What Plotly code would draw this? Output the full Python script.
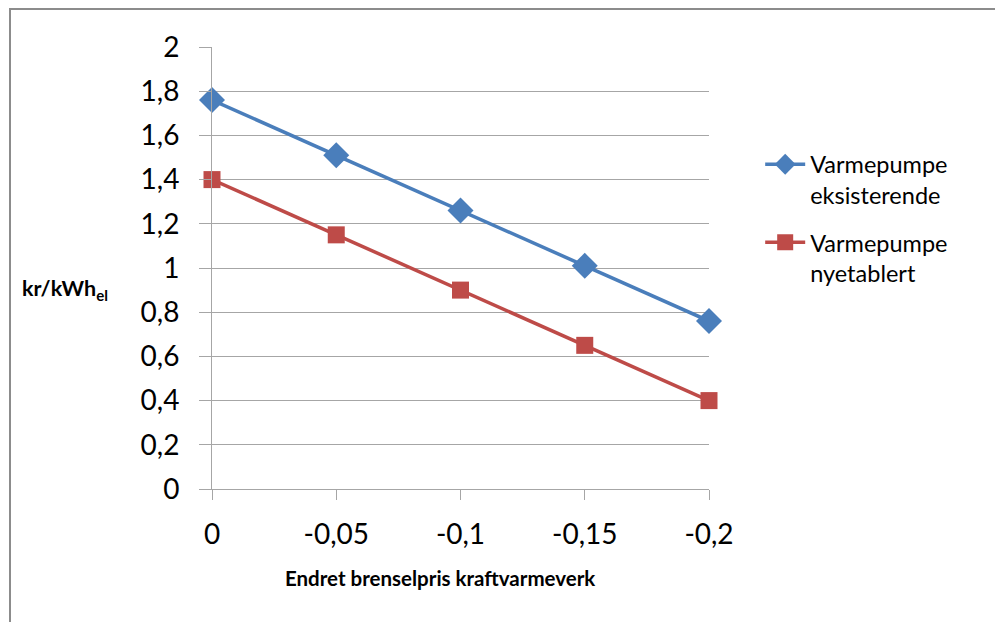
import plotly.graph_objects as go

categories = ["0", "-0,05", "-0,1", "-0,15", "-0,2"]
series_names = ["Varmepumpe<br>eksisterende", "Varmepumpe<br>nyetablert"]
eksisterende = [1.76, 1.51, 1.26, 1.01, 0.76]
nyetablert = [1.40, 1.15, 0.90, 0.65, 0.40]
y_ticks = [0, 0.2, 0.4, 0.6, 0.8, 1.0, 1.2, 1.4, 1.6, 1.8, 2.0]
y_ticktext = ["0", "0,2", "0,4", "0,6", "0,8", "1", "1,2", "1,4", "1,6", "1,8", "2"]

xpos = list(range(len(categories)))
FONT = "Lato, Calibri, 'Open Sans', sans-serif"
GRID = "#A6A6A6"

fig = go.Figure()
fig.add_trace(go.Scatter(
    x=xpos, y=eksisterende, name=series_names[0], mode="lines+markers",
    line=dict(color="#4A7EBB", width=3.5),
    marker=dict(symbol="diamond", size=20, color="#4A7EBB"),
    cliponaxis=False, legendgroup="g1",
))
fig.add_trace(go.Scatter(
    x=xpos, y=nyetablert, name=series_names[1], mode="lines+markers",
    line=dict(color="#BE4B48", width=3.5),
    marker=dict(symbol="square", size=17, color="#BE4B48"),
    cliponaxis=False, legendgroup="g2",
))

fig.update_layout(
    width=995, height=622,
    margin=dict(l=212, r=286, t=47, b=133),
    paper_bgcolor="white", plot_bgcolor="white",
    font=dict(family=FONT, color="#000000"),
    showlegend=True,
    legend=dict(
        x=1.103, y=0.784, xanchor="left", yanchor="top",
        font=dict(size=23.5, family=FONT, color="#000"),
        traceorder="grouped", tracegroupgap=14, itemwidth=40,
        bgcolor="rgba(0,0,0,0)", valign="top",
    ),
    xaxis=dict(
        range=[0, 4], tickmode="array", tickvals=xpos, ticktext=categories,
        showgrid=False, zeroline=False, showline=True, linecolor=GRID, linewidth=1,
        ticks="outside", ticklen=10, tickcolor=GRID, tickwidth=1,
        tickfont=dict(size=28, family=FONT), ticklabelstandoff=10,
    ),
    yaxis=dict(
        range=[0, 2], tickmode="array", tickvals=y_ticks, ticktext=y_ticktext,
        showgrid=True, gridcolor=GRID, gridwidth=1, zeroline=False,
        showline=True, linecolor=GRID, linewidth=1,
        ticks="outside", ticklen=12, tickcolor=GRID, tickwidth=1,
        tickfont=dict(size=28, family=FONT), ticklabelstandoff=14,
    ),
    annotations=[
        dict(text="<b>kr/kWh<sub>el</sub></b>", xref="paper", yref="paper",
             x=(20 - 212) / 497, y=(489 - 289) / 442, xanchor="left", yanchor="middle",
             showarrow=False, font=dict(size=21.5, family=FONT)),
        dict(text="<b>Endret brenselpris kraftvarmeverk</b>", xref="paper", yref="paper",
             x=(440 - 212) / 497, y=(489 - 578) / 442, xanchor="center", yanchor="middle",
             showarrow=False, font=dict(size=20.5, family=FONT)),
    ],
    shapes=[
        dict(type="rect", xref="paper", yref="paper",
             x0=(10 - 212) / 497, x1=(1010 - 212) / 497,
             y0=(489 - 640) / 442, y1=(489 - 9) / 442,
             line=dict(color="#8C8C8C", width=2), layer="below"),
    ],
)

fig.write_html("out.html")
